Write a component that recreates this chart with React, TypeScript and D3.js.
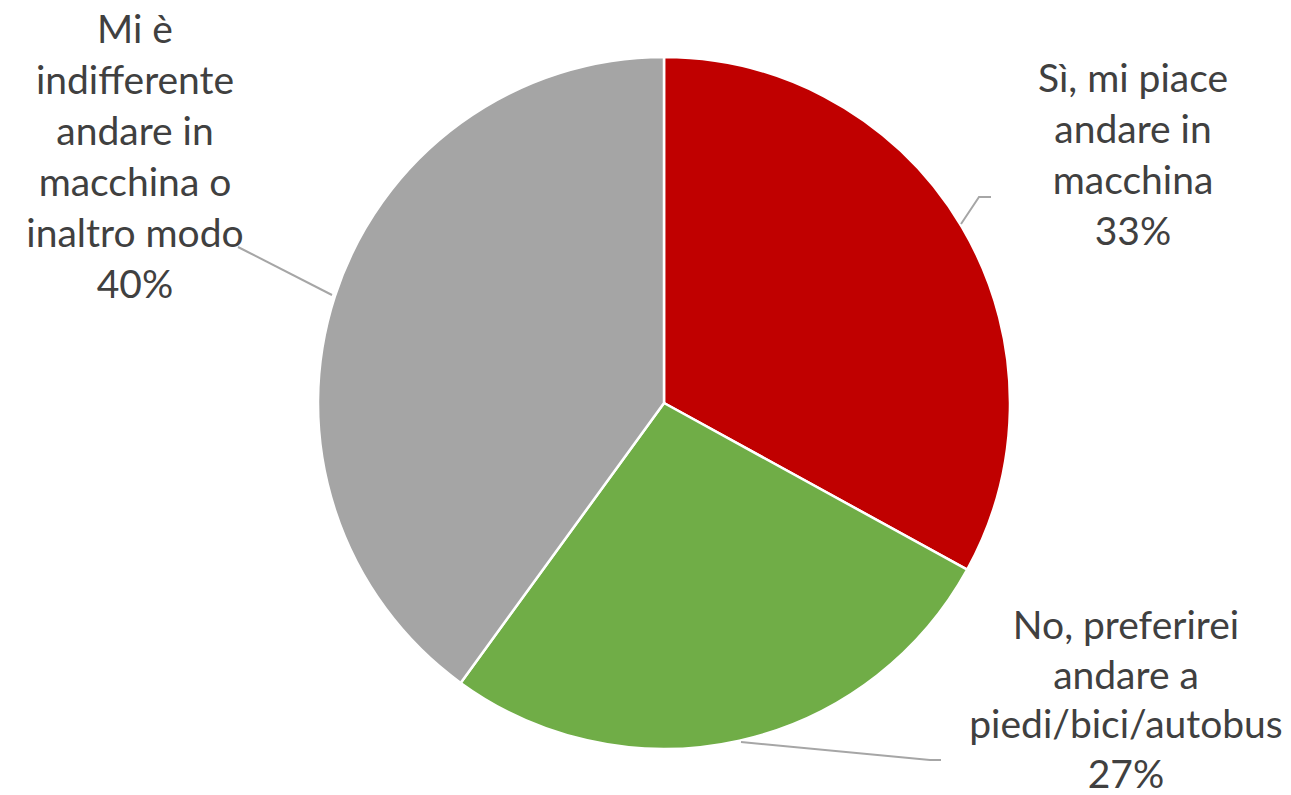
import React from "react";
import * as d3 from "d3";

const categories = [
  "Sì, mi piace andare in macchina",
  "No, preferirei andare a piedi/bici/autobus",
  "Mi è indifferente andare in macchina o inaltro modo",
];
const values = [33, 27, 40];
const colors = ["#C00000", "#70AD47", "#A5A5A5"];
const labelLines = [
  ["Sì, mi piace", "andare in", "macchina", "33%"],
  ["No, preferirei", "andare a", "piedi/bici/autobus", "27%"],
  ["Mi è", "indifferente", "andare in", "macchina o", "inaltro modo", "40%"],
];

const W = 1291, H = 795;
const cx = 664, cy = 403, R = 346;
const labelLayout = [
  { x: 1133, y: 92, lh: 51 },
  { x: 1126, y: 639, lh: 49.5 },
  { x: 135, y: 43, lh: 51 },
];
const leaders = [
  [[961, 224], [979, 197], [991, 197]],
  [[741, 742], [930, 760], [941, 760]],
  [[332, 295], [238, 247]],
];

export default function App() {
  const pie = d3.pie<number>().sort(null).value((d) => d)(values);
  const arc = d3.arc<d3.PieArcDatum<number>>().innerRadius(0).outerRadius(R);
  const line = d3.line();
  return (
    <svg width={W} height={H} style={{ position: "absolute", left: 0, top: 0 }}>
      <rect width={W} height={H} fill="#fff" />
      <g transform={`translate(${cx},${cy})`}>
        {pie.map((p, i) => (
          <path key={categories[i]} d={arc(p) || ""} fill={colors[i]} stroke="#fff" strokeWidth={2.5} strokeLinejoin="round" />
        ))}
      </g>
      {leaders.map((pts, i) => (
        <path key={i} d={line(pts as [number, number][]) || ""} fill="none" stroke="#A6A6A6" strokeWidth={2} />
      ))}
      {labelLines.map((lines, i) => (
        <text key={i} textAnchor="middle" fontFamily="Lato" fontSize={39} fill="#404040">
          {lines.map((l, j) => (
            <tspan key={j} x={labelLayout[i].x} y={labelLayout[i].y + j * labelLayout[i].lh}>{l}</tspan>
          ))}
        </text>
      ))}
    </svg>
  );
}
